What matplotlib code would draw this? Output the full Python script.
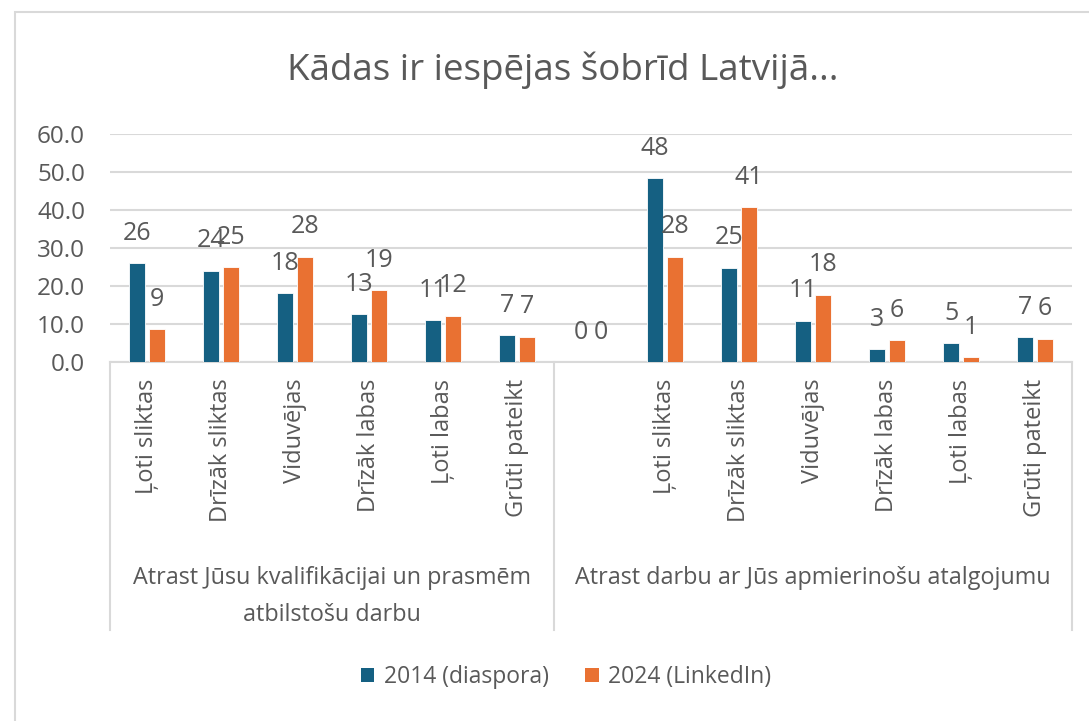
import numpy as np
import matplotlib.pyplot as plt
from matplotlib.patches import Rectangle, Patch
from matplotlib.lines import Line2D

plt.rcParams['font.family'] = ['Open Sans', 'DejaVu Sans']

# dati
title = "Kādas ir iespējas šobrīd Latvijā..."
series_names = ["2014 (diaspora)", "2024 (LinkedIn)"]
answers = ["Ļoti sliktas", "Drīzāk sliktas", "Viduvējas", "Drīzāk labas", "Ļoti labas", "Grūti pateikt"]
group_1 = ["Atrast Jūsu kvalifikācijai un prasmēm", "atbilstošu darbu"]
group_2 = ["Atrast darbu ar Jūs apmierinošu atalgojumu"]
cats_1 = answers
cats_2 = [""] + answers
v2014 = [26.0, 24.0, 18.1, 12.6, 11.0, 7.1, 0.0, 48.3, 24.8, 10.9, 3.3, 5.0, 6.6]
v2024 = [8.6, 24.9, 27.7, 18.9, 12.2, 6.7, 0.0, 27.7, 40.7, 17.7, 5.8, 1.2, 6.1]
y_ticks = [0, 10, 20, 30, 40, 50, 60]

c_blue = '#156082'
c_orange = '#E97132'
c_text = '#595959'
c_line = '#D9D9D9'

W, H = 1089, 721
fig = plt.figure(figsize=(W / 100, H / 100), dpi=100)

# rāmis ap diagrammu
fig.add_artist(Rectangle((15 / W, -0.1), 2, 1 - 12 / H + 0.1, transform=fig.transFigure,
                         fill=False, edgecolor=c_line, linewidth=1.5, clip_on=False))

ax_l, ax_r, ax_b, ax_t = 110, 1072, 362, 134
ax = fig.add_axes([ax_l / W, 1 - ax_b / H, (ax_r - ax_l) / W, (ax_b - ax_t) / H])

cats = cats_1 + cats_2
x = np.arange(len(cats))
bw = 0.22
off = 0.135
ax.bar(x - off, v2014, bw, color=c_blue, edgecolor='white', linewidth=0.6, zorder=3)
ax.bar(x + off, v2024, bw, color=c_orange, edgecolor='white', linewidth=0.6, zorder=3)

for xi, v in zip(x, v2014):
    ax.annotate(f"{v:.0f}", (xi - off, v), xytext=(0, 21.5), textcoords='offset points',
                ha='center', va='center', fontsize=18, color=c_text)
for xi, v in zip(x, v2024):
    ax.annotate(f"{v:.0f}", (xi + off, v), xytext=(0, 21.5), textcoords='offset points',
                ha='center', va='center', fontsize=18, color=c_text)

ax.set_xlim(-0.5, len(cats) - 0.5)
ax.set_ylim(0, 60)
ax.set_yticks(y_ticks)
ax.set_yticklabels([f"{t:.1f}" for t in y_ticks], fontsize=17.5, color=c_text)
ax.yaxis.grid(True, color=c_line, linewidth=1.5, zorder=0)
ax.set_axisbelow(True)
ax.tick_params(axis='y', length=0, pad=18)

ax.set_xticks(x)
ax.set_xticklabels(cats, rotation=90, fontsize=17, color=c_text, va='top', ha='center')
ax.tick_params(axis='x', length=0, pad=12)

for s in ['top', 'right', 'left']:
    ax.spines[s].set_visible(False)
ax.spines['bottom'].set_color(c_line)
ax.spines['bottom'].set_linewidth(1.5)

# kategoriju ass rāmis
px = (ax_b - ax_t)
y_bot = -(630 - ax_b) / px
trans = ax.get_xaxis_transform()
n1 = len(cats_1)
for xv in [-0.5, n1 - 0.5, len(cats) - 0.5]:
    ax.add_line(Line2D([xv, xv], [0, y_bot], transform=trans, color=c_line,
                       linewidth=1.5, clip_on=False))

g1c = (n1 - 1) / 2
g2c = n1 + (len(cats_2) - 1) / 2
for i, line in enumerate(group_1):
    ax.text(g1c, -(578 + 37 * i - ax_b) / px, line, transform=trans, ha='center', va='center',
            fontsize=16.8, color=c_text)
for i, line in enumerate(group_2):
    ax.text(g2c, -(578 + 37 * i - ax_b) / px, line, transform=trans, ha='center', va='center',
            fontsize=16.8, color=c_text)

fig.text(563 / W, 1 - 70 / H, title, ha='center', va='center', fontsize=26.5, color=c_text)

handles = [Patch(facecolor=c_blue), Patch(facecolor=c_orange)]
fig.legend(handles, series_names, loc='center', bbox_to_anchor=(566 / W, 1 - 677 / H), ncol=2,
           frameon=False, fontsize=16.5, labelcolor=c_text, handlelength=0.6, handleheight=0.6,
           handletextpad=0.4, columnspacing=1.6)

fig.savefig('out.png', dpi=100)
